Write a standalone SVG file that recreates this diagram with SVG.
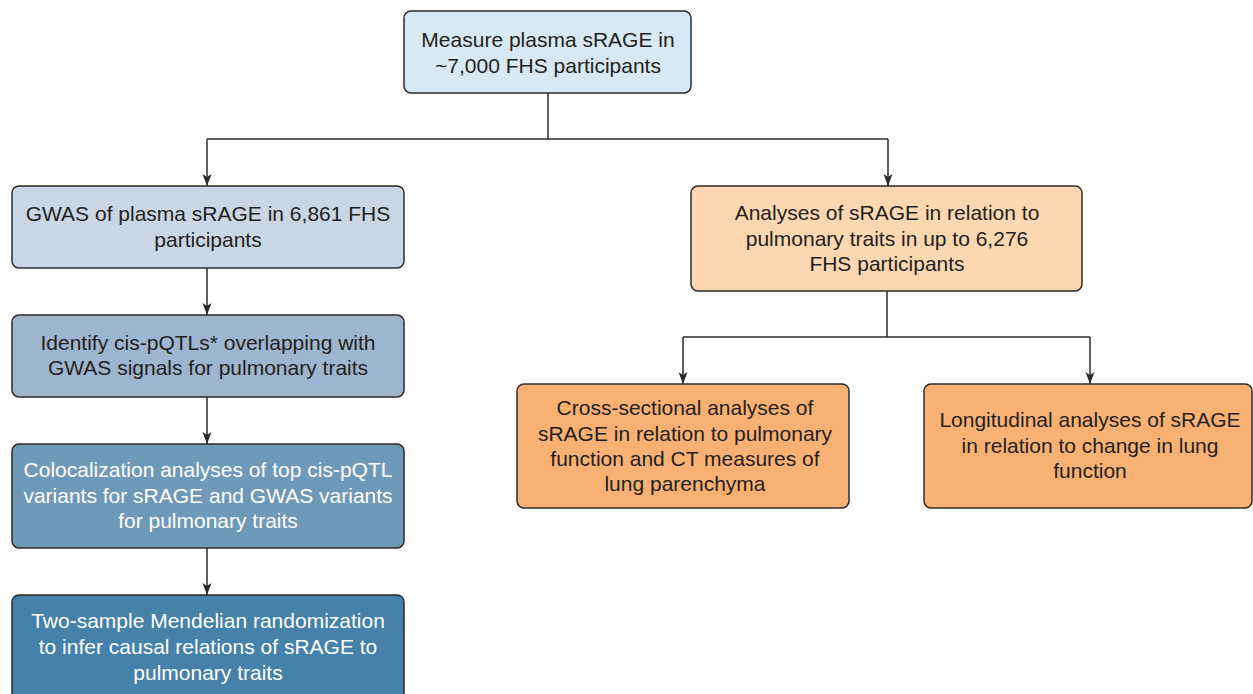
<svg xmlns="http://www.w3.org/2000/svg" width="1253" height="694" viewBox="0 0 1253 694">
<style>
.box{stroke:#2b2b2b;stroke-width:1.5}
.t{font-family:"Liberation Sans",Arial,sans-serif;font-size:21px;text-anchor:middle;fill:#231f20}
.w{fill:#ffffff}
.c{stroke:#2b2b2b;stroke-width:1.5;fill:none}
</style>
<defs>
<marker id="ah" markerWidth="12" markerHeight="10" refX="12" refY="4.5" orient="auto" markerUnits="userSpaceOnUse" viewBox="0 0 12 9">
<path d="M0,0 L12,4.5 L0,9 L3,4.5 Z" fill="#2b2b2b"/>
</marker>
</defs>
<rect width="1253" height="694" fill="#ffffff"/>
<g id="connectors">
<path class="c" d="M548,93 V139 M207,139 H888"/>
<path class="c" d="M207,139 V186" marker-end="url(#ah)"/>
<path class="c" d="M888,139 V186" marker-end="url(#ah)"/>
<path class="c" d="M207,268 V315" marker-end="url(#ah)"/>
<path class="c" d="M207,397 V444" marker-end="url(#ah)"/>
<path class="c" d="M207,548 V595" marker-end="url(#ah)"/>
<path class="c" d="M887,291 V337 M683,337 H1090"/>
<path class="c" d="M683,337 V384" marker-end="url(#ah)"/>
<path class="c" d="M1090,337 V384" marker-end="url(#ah)"/>
</g>
<g id="measure">
<rect class="box" x="404" y="11" width="287" height="82" rx="7" fill="#d6e9f4"/>
<text class="t" x="548" y="47">Measure plasma sRAGE in</text>
<text class="t" x="548" y="73">~7,000 FHS participants</text>
</g>
<g id="gwas">
<rect class="box" x="12" y="186" width="392" height="82" rx="7" fill="#c9d6e5"/>
<text class="t" x="208" y="221">GWAS of plasma sRAGE in 6,861 FHS</text>
<text class="t" x="208" y="247">participants</text>
</g>
<g id="identify">
<rect class="box" x="12" y="315" width="392" height="82" rx="7" fill="#9db5cf"/>
<text class="t" x="208" y="350">Identify cis-pQTLs* overlapping with</text>
<text class="t" x="208" y="375">GWAS signals for pulmonary traits</text>
</g>
<g id="coloc">
<rect class="box" x="12" y="444" width="392" height="104" rx="7" fill="#6f99b8"/>
<text class="t w" x="208" y="477">Colocalization analyses of top cis-pQTL</text>
<text class="t w" x="208" y="503">variants for sRAGE and GWAS variants</text>
<text class="t w" x="208" y="528">for pulmonary traits</text>
</g>
<g id="mr">
<rect class="box" x="12" y="595" width="392" height="110" rx="7" fill="#4581a8"/>
<text class="t w" x="208" y="628">Two-sample Mendelian randomization</text>
<text class="t w" x="208" y="654">to infer causal relations of sRAGE to</text>
<text class="t w" x="208" y="680">pulmonary traits</text>
</g>
<g id="analyses">
<rect class="box" x="691" y="186" width="391" height="105" rx="7" fill="#fdd7b1"/>
<text class="t" x="887" y="220">Analyses of sRAGE in relation to</text>
<text class="t" x="887" y="246">pulmonary traits in up to 6,276</text>
<text class="t" x="887" y="271">FHS participants</text>
</g>
<g id="cross">
<rect class="box" x="517" y="384" width="332" height="124" rx="7" fill="#f9b173"/>
<text class="t" x="685" y="415">Cross-sectional analyses of</text>
<text class="t" x="685" y="441">sRAGE in relation to pulmonary</text>
<text class="t" x="685" y="466">function and CT measures of</text>
<text class="t" x="685" y="491">lung parenchyma</text>
</g>
<g id="longitudinal">
<rect class="box" x="924" y="384" width="328" height="124" rx="7" fill="#f9b173"/>
<text class="t" x="1090" y="427">Longitudinal analyses of sRAGE</text>
<text class="t" x="1090" y="453">in relation to change in lung</text>
<text class="t" x="1090" y="478">function</text>
</g>
</svg>
